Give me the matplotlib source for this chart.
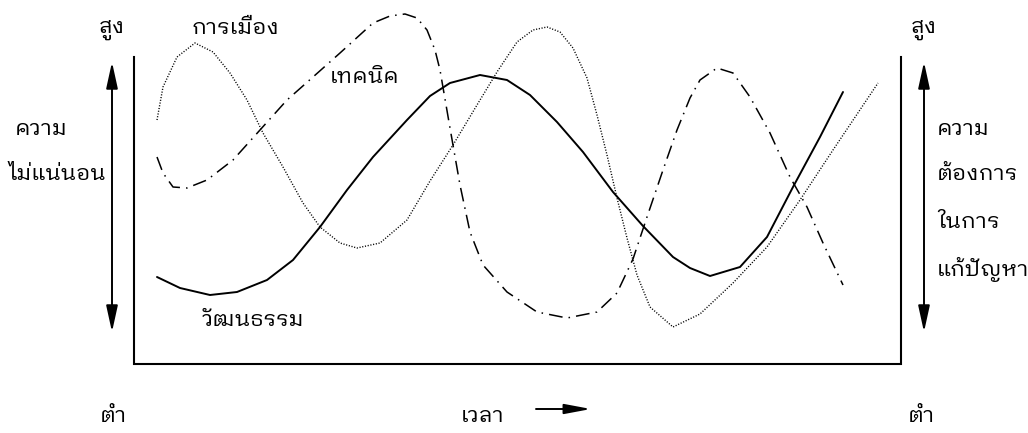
import matplotlib
matplotlib.use("Agg")
import matplotlib.pyplot as plt

plt.rcParams["font.family"] = ["IBM Plex Sans Thai Looped", "DejaVu Sans"]

# curve points (pixel space, y grows downward)
culture_x = [157, 180, 210, 237, 267, 293, 320, 347, 373, 407, 430, 450, 480, 507, 530, 557, 583, 613, 643,
             673, 690, 710, 740, 767, 793, 820, 843]
culture_y = [277, 288, 295, 292, 280, 260, 227, 190, 157, 120, 96, 83, 75, 80, 95, 122, 152, 192, 226,
             257, 268, 276, 267, 237, 187, 137, 92]

politics_x = [157, 163, 177, 195, 213, 230, 247, 263, 283, 303, 320, 340, 357, 380, 407, 430, 453, 477, 497,
              517, 533, 547, 560, 573, 587, 597, 607, 617, 627, 637, 650, 673, 700, 733, 767, 800, 833, 878]
politics_y = [120, 87, 57, 43, 52, 73, 100, 133, 167, 203, 227, 243, 248, 243, 220, 181, 145, 105, 72,
              42, 30, 27, 32, 48, 78, 115, 155, 198, 238, 275, 307, 327, 314, 283, 247, 200, 150, 83]

technic_x = [157, 163, 173, 187, 207, 233, 260, 287, 313, 340, 373, 390, 405, 417, 427, 435, 440, 450, 460,
             470, 483, 507, 537, 567, 597, 617, 633, 647, 663, 677, 690, 700, 717, 733, 750, 770, 790, 807,
             823, 843]
technic_y = [157, 173, 187, 188, 180, 160, 130, 100, 77, 53, 23, 16, 14, 18, 30, 50, 70, 128, 185,
             232, 265, 292, 312, 318, 312, 293, 259, 217, 170, 130, 98, 80, 68, 73, 97, 133, 177, 207,
             243, 285]

box_x = [134, 134, 901, 901]
box_y = [57, 364, 364, 57]

fig = plt.figure(figsize=(10.28, 4.33), dpi=100)
ax = fig.add_axes([0, 0, 1, 1])
ax.set_xlim(0, 1028)
ax.set_ylim(433, 0)
ax.axis("off")

ax.plot(box_x, box_y, color="black", lw=1.5, solid_joinstyle="miter")
ax.plot(culture_x, culture_y, color="black", lw=1.4, solid_capstyle="round", solid_joinstyle="round")
ax.plot(politics_x, politics_y, color="black", lw=1.0, linestyle=(0, (0.8, 1.2)))
ax.plot(technic_x, technic_y, color="black", lw=1.1, linestyle=(0, (9, 4, 1, 4)))

arrow = dict(arrowstyle="<|-|>,head_length=1.6,head_width=0.35", color="black", lw=1.4, shrinkA=0, shrinkB=0)
ax.annotate("", xy=(112, 62), xytext=(112, 332), arrowprops=arrow)
ax.annotate("", xy=(924, 62), xytext=(924, 332), arrowprops=arrow)
ax.annotate("", xy=(591, 409), xytext=(536, 409),
            arrowprops=dict(arrowstyle="-|>,head_length=1.6,head_width=0.3", color="black", lw=1.4,
                            shrinkA=0, shrinkB=0))

fs = 16
kw = dict(fontsize=fs, fontweight="normal", va="baseline")
ax.text(112, 33, "สูง", ha="center", **kw)
ax.text(924, 33, "สูง", ha="center", **kw)
ax.text(192, 34, "การเมือง", ha="left", **kw)
ax.text(330, 83, "เทคนิค", ha="left", **kw)
ax.text(202, 326, "วัฒนธรรม", ha="left", **kw)
ax.text(15, 135, "ความ", ha="left", **kw)
ax.text(8, 180, "ไม่แน่นอน", ha="left", **kw)
ax.text(937, 135, "ความ", ha="left", **kw)
ax.text(937, 180, "ต้องการ", ha="left", **kw)
ax.text(937, 228, "ในการ", ha="left", **kw)
ax.text(937, 276, "แก้ปัญหา", ha="left", **kw)
ax.text(113, 422, "ต่ำ", ha="center", **kw)
ax.text(921, 422, "ต่ำ", ha="center", **kw)
ax.text(483, 422, "เวลา", ha="center", **kw)

fig.savefig("out.png", dpi=100)
